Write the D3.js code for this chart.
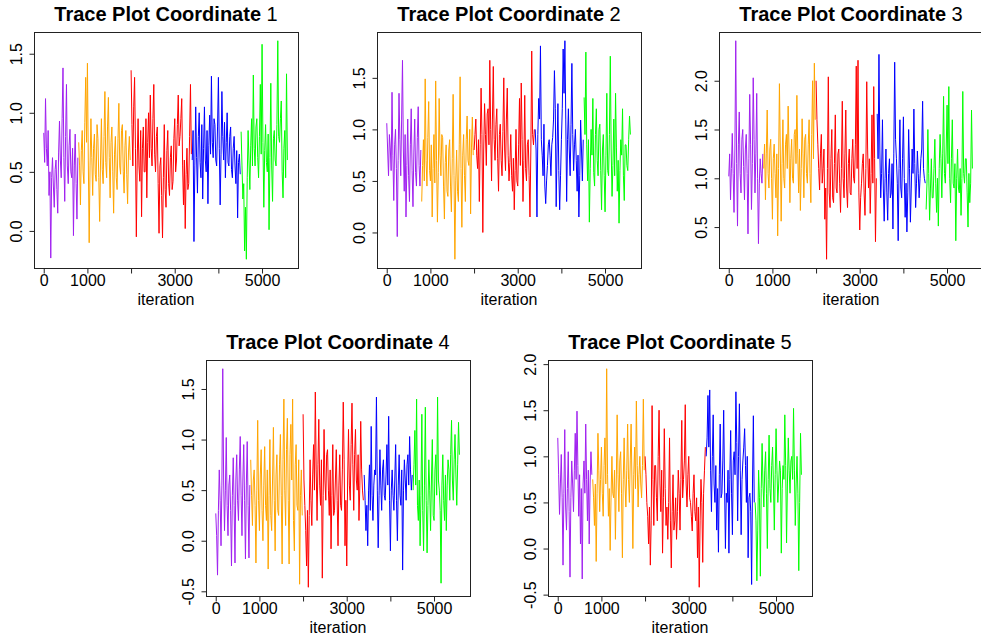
<!DOCTYPE html>
<html>
<head>
<meta charset="utf-8">
<script src="https://cdn.jsdelivr.net/npm/d3@7"></script>
<style>
  body { margin: 0; background: #fff; }
  svg { display: block; font-family: "Liberation Sans", Arial, sans-serif; }
</style>
</head>
<body>
<svg id="chart" width="981" height="642"></svg>
<script>
// -- MCMC trace plots, five coordinates, five chains each --

// samples are read every 20 iterations off the picture
const nIter = 5600;
const iterStep = 20;
const chainLengths = [40, 60, 70, 56, 54];
const chainColors = ['#a020f0', '#ffa500', '#ff0000', '#0000ff', '#00ff00'];
const xTicks = [0, 1000, 2000, 3000, 4000, 5000];
const xTickLabels = ['0', '1000', '', '3000', '', '5000'];
const titles = ['1', '2', '3', '4', '5'];

const coord1 = [
  // purple
  0.83, 0.58, 1.12, 0.70, 0.55, 0.85, 0.30, 0.50, -0.23, 0.45, 0.62, 0.38, 0.20, 0.52, 0.60, 0.35, 0.15, 0.66, 0.93, 0.60,
  0.45, 0.95, 1.38, 0.62, 0.25, 0.80, 1.24, 0.55, 0.40, 0.72, 0.86, 0.50, 0.45, 0.70, -0.04, 0.55, 0.82, 0.40, 0.10, 0.62,
  // orange
  0.75, 0.55, 0.22, 0.68, 0.85, 0.50, 0.40, 0.92, 1.30, 0.75, 1.42, 0.60, -0.10, 0.55, 0.95, 0.62, 0.30, 0.70, 0.82, 0.48,
  0.42, 0.90, 0.78, 0.45, 0.08, 0.60, 0.95, 0.52, 0.40, 0.80, 1.18, 0.58, 0.45, 0.88, 1.13, 0.62, 0.28, 0.75, 0.88, 0.50,
  0.15, 0.65, 0.80, 0.45, 0.35, 0.78, 1.08, 0.55, 0.48, 0.85, 0.90, 0.50, 0.32, 0.72, 0.85, 0.48, 0.23, 0.66, 0.80, 0.60,
  // red
  1.36, 0.90, 0.55, 1.05, 1.30, 0.70, -0.05, 0.60, 0.95, 0.55, 0.42, 0.85, 0.12, 0.70, 0.88, 0.50, 0.50, 0.95, 0.28, 0.75,
  1.00, 0.62, 1.15, 0.70, 0.55, 0.95, 1.24, 0.65, 0.50, 0.80, 0.88, 0.40, -0.02, 0.55, 0.62, 0.30, -0.06, 0.45, 0.90, 0.35,
  0.20, 0.68, 0.85, 0.40, 0.30, 0.62, 0.72, 0.35, 0.42, 0.78, 0.95, 0.50, 0.60, 0.90, 1.15, 0.72, 0.80, 0.95, 1.12, 0.55,
  0.22, 0.60, 0.02, 0.48, 0.70, 0.35, 0.40, 0.80, 1.24, 0.65,
  // blue
  0.60, 0.85, -0.09, 0.55, 1.05, 0.62, 0.32, 0.80, 1.00, 0.58, 0.45, 0.90, 0.27, 0.70, 1.05, 0.60, 0.50, 0.85, 0.23, 0.72,
  0.98, 0.65, 1.31, 0.75, 0.62, 0.95, 0.90, 0.60, 0.55, 0.88, 1.30, 0.70, 0.22, 0.65, 1.18, 0.80, 0.60, 0.92, 0.45, 0.75,
  1.00, 0.58, 0.55, 0.80, 0.88, 0.52, 0.45, 0.70, 0.80, 0.55, 0.40, 0.68, 0.11, 0.58, 0.65, 0.48,
  // green
  0.84, 0.55, 0.27, 0.40, -0.17, 0.20, -0.24, 0.45, 0.85, 0.60, 0.35, 0.72, 0.95, 0.55, 1.32, 0.70, 0.55, 0.88, 0.95, 0.62,
  0.45, 0.80, 1.24, 0.65, 1.58, 0.75, 0.20, 0.68, 0.90, 0.58, 0.50, 0.82, 0.01, 0.62, 1.25, 0.55, 0.25, 0.78, 0.85, 0.60,
  0.55, 0.90, 1.61, 0.80, 0.75, 0.95, 1.10, 0.50, 0.28, 0.70, 0.85, 0.45, 1.33, 0.60
];

const coord2 = [
  1.06, 0.80, 0.55, 0.95, 0.82, 0.60, 1.36, 0.75, 0.31, 0.85, 1.00, 0.62, -0.04, 0.70, 1.35, 0.90, 0.55, 1.10, 1.67, 0.80,
  0.40, 0.95, 0.15, 0.65, 1.10, 0.55, 0.30, 0.85, 1.20, 0.60, 0.25, 0.78, 1.10, 0.58, 0.45, 0.92, 1.22, 0.65, 0.45, 0.80,
  0.30, 0.65, 0.90, 0.50, 1.49, 0.70, 0.45, 0.92, 1.27, 0.60, 0.50, 0.85, 0.15, 0.62, 0.95, 0.48, 1.47, 0.70, 0.10, 0.58,
  1.30, 0.75, 0.55, 0.95, 0.92, 0.45, 0.13, 0.68, 0.85, 0.40, 0.35, 0.80, 0.90, 0.45, 0.20, 0.72, 1.34, 0.55, -0.26, 0.50,
  0.80, 0.40, 0.30, 0.85, 1.51, 0.62, 0.05, 0.75, 0.95, 0.55, 0.30, 0.90, 1.13, 0.70, 0.65, 1.00, 0.18, 0.82, 1.12, 0.75,
  0.80, 0.95, 1.10, 0.75, 0.62, 0.90, 0.30, 0.85, 1.40, 0.95, 0.00, 0.80, 1.25, 0.95, 0.65, 1.15, 1.20, 0.85, 1.67, 1.00,
  0.50, 1.10, 1.61, 0.90, 0.70, 1.05, 1.20, 0.72, 0.40, 0.95, 1.05, 0.70, 0.55, 0.98, 1.50, 0.80, 0.60, 1.10, 1.40, 0.75,
  0.50, 0.68, 0.95, 0.55, 0.40, 0.72, 0.22, 0.60, 1.00, 0.50, 0.45, 0.85, 1.30, 0.65, 1.45, 0.90, 0.30, 0.70, 1.33, 0.62,
  0.50, 0.85, 0.90, 0.55, 0.15, 0.80, 1.76, 0.95, 0.85, 1.00,
  1.00, 0.80, 0.15, 0.95, 1.30, 1.10, 1.81, 0.90, 0.75, 0.55, 1.05, 0.45, 0.28, 0.50, 0.65, 0.85, 0.90, 0.75, 0.55, 0.85,
  0.92, 1.10, 1.57, 1.20, 0.25, 0.80, 1.25, 0.60, 0.22, 0.55, 0.90, 1.20, 1.78, 1.35, 1.86, 1.10, 0.30, 0.90, 1.20, 0.80,
  0.55, 1.05, 1.64, 0.95, 0.60, 0.85, 1.00, 0.70, 0.40, 0.75, 0.15, 0.55, 1.09, 0.80, 0.50, 0.90,
  1.31, 0.95, 1.75, 0.85, 0.50, 0.90, 0.10, 0.62, 1.00, 0.75, 1.30, 0.58, 0.45, 0.95, 1.20, 0.70, 0.55, 1.00, 1.05, 0.60,
  0.22, 0.80, 0.95, 0.55, 0.20, 0.75, 1.35, 0.60, 0.55, 0.95, 1.71, 0.80, 0.35, 0.65, 1.10, 0.55, 1.35, 0.82, 0.40, 0.70,
  0.09, 0.60, 0.90, 0.75, 1.20, 0.55, 0.31, 0.85, 0.85, 0.65, 0.60, 0.90, 1.13, 0.95
];

const coord3 = [
  1.02, 1.25, 0.78, 1.10, 1.46, 1.05, 0.65, 1.30, 2.41, 1.15, 0.51, 1.35, 1.68, 1.05, 0.85, 1.40, 1.50, 1.12, 0.78, 1.30,
  1.45, 1.05, 0.43, 1.20, 1.86, 1.35, 0.68, 1.15, 2.03, 1.40, 0.85, 1.25, 1.87, 1.00, 0.33, 0.95, 1.20, 1.05, 0.95, 1.25,
  1.10, 1.35, 0.78, 1.25, 1.70, 1.05, 0.90, 1.30, 1.40, 1.00, 0.58, 1.20, 1.35, 1.05, 0.80, 1.25, 0.41, 1.10, 1.97, 1.30,
  0.56, 1.15, 1.60, 1.00, 0.90, 1.35, 1.45, 1.10, 1.74, 1.30, 0.75, 1.20, 1.40, 1.00, 0.95, 1.45, 1.50, 1.15, 1.85, 1.25,
  0.85, 1.30, 0.67, 1.10, 1.61, 1.25, 0.80, 1.40, 1.45, 1.05, 0.95, 1.35, 1.60, 1.05, 0.75, 1.45, 2.00, 1.20, 2.18, 1.60,
  2.00, 1.60, 1.35, 1.10, 0.88, 1.25, 1.45, 0.95, 1.10, 1.30, 0.58, 0.90, 0.17, 1.10, 2.04, 0.85, 0.70, 1.20, 1.50, 0.80,
  0.75, 1.15, 1.65, 0.90, 0.85, 1.25, 1.30, 0.95, 0.65, 1.10, 1.79, 1.00, 0.80, 1.25, 1.70, 0.90, 0.70, 1.15, 1.30, 0.85,
  0.83, 1.20, 1.40, 1.00, 0.95, 1.35, 2.15, 1.10, 2.21, 0.85, 0.47, 0.80, 0.95, 1.15, 1.25, 0.85, 0.62, 1.10, 1.99, 1.30,
  0.90, 1.20, 0.64, 1.05, 1.65, 0.95, 1.94, 1.20, 0.35, 1.00,
  1.66, 1.20, 2.27, 1.30, 0.80, 1.05, 1.60, 0.90, 0.56, 1.00, 1.30, 0.85, 0.57, 1.05, 1.20, 0.80, 0.85, 1.15, 0.48, 1.25,
  2.19, 1.40, 1.20, 0.95, 0.36, 1.10, 1.60, 0.90, 0.80, 1.20, 1.63, 1.00, 0.60, 0.95, 0.45, 0.85, 1.50, 1.10, 0.55, 0.90,
  1.30, 1.05, 1.71, 1.15, 0.70, 0.95, 1.28, 1.05, 0.80, 1.00, 1.20, 1.30, 1.79, 1.10, 1.00, 0.95,
  0.68, 0.95, 1.50, 1.05, 0.57, 0.90, 1.20, 0.80, 0.80, 1.10, 1.40, 0.95, 0.65, 1.00, 0.51, 1.10, 1.45, 1.20, 0.80, 1.25,
  1.84, 1.05, 0.95, 1.30, 1.75, 1.15, 1.94, 1.00, 0.75, 1.20, 1.60, 0.95, 0.90, 1.15, 0.36, 1.00, 1.30, 0.90, 0.85, 1.10,
  0.62, 1.00, 1.89, 1.05, 0.95, 1.20, 1.20, 0.85, 0.50, 1.05, 0.75, 0.95, 1.70, 1.10
];

const coord4 = [
  0.27, 0.05, -0.34, 0.30, 0.70, 0.40, -0.05, 0.55, 1.70, 0.60, 0.10, 0.50, 1.02, 0.35, 0.05, 0.55, 0.65, 0.30, -0.25, 0.45,
  0.82, 0.35, -0.22, 0.60, 0.85, 0.40, 0.20, 0.70, 1.03, 0.45, 0.05, 0.60, 0.95, 0.40, -0.18, 0.55, 0.98, 0.35, -0.17, 0.55,
  0.80, 0.45, 0.15, 0.60, 0.70, 0.35, -0.22, 0.50, 1.19, 0.40, 0.10, 0.65, 0.90, 0.30, 0.00, 0.55, 0.93, 0.35, 0.20, 0.70,
  -0.28, 0.45, 1.00, 0.25, 0.10, 0.60, 1.12, 0.40, -0.10, 0.65, 0.85, 0.30, 0.25, 0.75, 1.05, 0.45, -0.23, 0.80, 1.40, 0.50,
  0.15, 0.90, 1.21, 0.40, -0.23, 0.85, 1.15, 0.60, 1.40, 0.20, -0.10, 0.75, 0.95, 0.35, 0.30, 0.80, -0.43, 0.45, 0.70, 0.25,
  1.25, 0.60, 0.35, 0.10, -0.25, 0.30, -0.46, 0.25, 0.80, 0.40, 0.15, 0.65, 0.95, 0.50, 1.47, 0.70, 0.20, 0.75, 1.20, 0.55,
  0.35, 0.80, -0.37, 0.45, 1.10, 0.60, 0.40, 0.85, 0.90, 0.50, 0.25, 0.70, -0.08, 0.45, 0.95, 0.25, 0.30, 0.60, 0.90, 0.40,
  -0.05, 0.55, 0.85, 0.35, 0.30, 0.70, 1.37, 0.80, -0.05, 0.40, -0.25, 0.60, 1.10, 0.55, 0.40, 0.95, 1.36, 0.75, 0.30, 0.85,
  1.10, 0.60, 0.50, 0.85, 0.20, 0.55, 1.18, 0.70, 0.50, 0.40,
  0.65, 0.40, 0.10, 0.35, -0.05, 0.50, 0.75, 0.30, 1.13, 0.45, 0.20, 0.55, 0.70, 0.65, 1.42, 0.50, -0.07, 0.45, 0.90, 0.55,
  0.30, 0.70, 0.80, 0.45, 0.40, 0.65, 0.95, 0.55, 1.23, 0.40, -0.10, 0.50, 0.70, 0.45, 0.30, 0.60, 0.95, 0.40, 0.00, 0.55,
  0.85, 0.45, 0.35, 0.70, -0.29, 0.50, 0.80, 0.60, 0.40, 0.75, 0.85, 0.55, 1.03, 0.70, 0.50, 0.65,
  0.50, 0.75, 1.09, 0.55, 1.40, 0.35, 0.20, 0.60, -0.05, 0.45, 1.25, 0.30, -0.10, 0.55, 1.32, 0.40, -0.12, 0.35, 0.80, 0.50,
  0.10, 0.60, 1.00, 0.25, 0.20, 0.70, 0.85, 0.45, 1.42, 0.60, 0.50, 0.30, -0.42, 0.55, 0.85, 0.40, 0.20, 0.65, 0.10, 0.55,
  0.80, 0.70, 0.40, 0.85, 1.19, 0.60, 0.40, 0.80, 1.05, 0.65, 0.35, 0.75, 1.17, 0.85
];

const coord5 = [
  1.20, 0.80, 0.37, 0.70, 1.02, 0.55, -0.18, 0.60, 1.29, 0.45, 0.20, 0.65, 1.05, 0.40, -0.31, 0.55, 0.95, 0.70, 0.40, 0.85,
  1.25, 0.75, 1.49, 0.90, 0.35, 0.80, 0.05, 0.65, -0.33, 0.70, 0.95, 0.60, 1.35, 0.75, 0.30, 0.85, 0.05, 0.70, 1.05, 0.80,
  0.75, 0.55, 0.25, 0.70, -0.14, 0.60, 1.25, 0.85, 0.40, 0.75, 1.10, 0.60, 0.35, 0.90, 1.20, 0.70, 1.95, 0.80, 0.35, 0.65,
  -0.02, 0.55, 1.00, 0.60, 0.55, 0.85, 0.10, 0.70, 1.45, 0.80, 0.40, 0.95, 1.05, 0.60, -0.10, 0.75, 1.20, 0.70, 0.45, 0.85,
  1.35, 0.75, 0.50, 0.95, 1.35, 0.70, 0.00, 0.80, 1.10, 0.65, 1.60, 0.90, 0.45, 0.80, 1.00, 0.70, 0.55, 0.90, 1.62, 0.85,
  1.00, 0.80, 0.50, 0.35, 0.05, 0.45, -0.18, 0.30, 1.55, 0.75, 0.25, 0.90, 0.90, 0.55, 0.30, 1.00, 1.50, 0.70, 0.40, 0.85,
  -0.05, 0.55, 1.30, 0.65, 0.25, 0.45, 0.10, 0.50, 1.20, 0.30, -0.21, 0.40, 0.80, 0.20, 0.30, 0.55, 0.10, 0.40, 0.85, 0.60,
  0.20, 0.75, 1.39, 0.55, 0.75, 0.95, 1.56, 0.70, 0.45, 0.80, 1.00, 0.55, 0.50, 0.35, 0.19, 0.60, 0.80, 0.40, 0.30, 0.55,
  -0.10, 0.45, -0.42, 0.30, 0.75, 0.50, -0.15, 0.60, 0.85, 1.10,
  1.00, 1.20, 1.66, 1.10, 1.72, 0.85, 0.40, 1.00, 1.45, 0.70, 0.50, 0.90, 0.20, 0.65, -0.04, 0.80, 1.35, 0.55, 0.60, 0.95,
  1.50, 0.70, 0.00, 0.60, 0.50, 0.85, -0.05, 0.75, 1.28, 0.60, 0.15, 0.95, 1.05, 0.80, 1.70, 1.15, 0.30, 1.00, 1.57, 0.85,
  0.15, 0.75, 0.95, 1.10, 1.30, 0.90, 0.50, 1.00, -0.10, 0.55, 0.60, 0.40, -0.39, 0.70, 1.44, 0.50,
  0.50, 0.30, -0.35, 0.20, 0.85, 0.55, -0.30, 0.65, 1.14, 0.70, 0.45, 0.85, 1.05, 0.60, 0.00, 0.75, 1.23, 0.65, 0.50, 0.90,
  1.10, 0.70, 0.20, 0.80, 1.30, 0.85, 0.50, 0.70, 0.95, 0.85, -0.05, 0.65, 0.90, 0.75, 1.45, 0.90, 0.06, 0.70, 1.20, 0.85,
  0.60, 0.95, 1.00, 0.75, 1.52, 0.85, 0.25, 0.70, 1.00, 0.60, -0.24, 0.50, 1.25, 0.80
];

const svg = d3.select('#chart');
const W = 264, H = 236;

const panels = [
  { values: coord1, left: 34, top: 32 },
  { values: coord2, left: 377, top: 32 },
  { values: coord3, left: 719, top: 32 },
  { values: coord4, left: 206, top: 360 },
  { values: coord5, left: 548, top: 360 },
];

// R style axis range: data range plus 4% each side
const xPad = 0.04 * (nIter - 1);
const x = d3.scaleLinear().domain([1 - xPad, nIter + xPad]).range([0, W]);

panels.forEach((p, k) => {
  const g = svg.append('g').attr('transform', `translate(${p.left},${p.top})`);

  const [lo, hi] = d3.extent(p.values);
  const pad = (hi - lo) * 0.04;
  const y = d3.scaleLinear().domain([lo - pad, hi + pad]).range([H, 0]);

  const line = d3.line().x(d => x(d.it)).y(d => y(d.v));

  let start = 0;
  chainLengths.forEach((n, c) => {
    const pts = p.values.slice(start, start + n)
      .map((v, j) => ({ it: 1 + (start + j) * iterStep, v }));
    start += n;
    g.append('path')
      .datum(pts)
      .attr('d', line)
      .attr('fill', 'none')
      .attr('stroke', chainColors[c])
      .attr('stroke-width', 1);
  });

  g.append('rect')
    .attr('x', 0.5).attr('y', 0.5)
    .attr('width', W).attr('height', H)
    .attr('fill', 'none')
    .attr('stroke', '#222')
    .attr('stroke-width', 1);

  const xAxis = g.append('g')
    .attr('transform', `translate(0,${H + 0.5})`)
    .call(d3.axisBottom(x)
      .tickValues(xTicks)
      .tickSize(5)
      .tickPadding(1)
      .tickFormat((d, i) => xTickLabels[i]));
  xAxis.select('.domain').remove();
  xAxis.selectAll('text').attr('font-size', 16).attr('font-family', null).attr('fill', '#000');
  xAxis.selectAll('line').attr('stroke', '#222');

  const yAxis = g.append('g')
    .attr('transform', 'translate(0.5,0)')
    .call(d3.axisLeft(y).ticks(5).tickSize(5).tickFormat(v => v.toFixed(1)));
  yAxis.select('.domain').remove();
  yAxis.selectAll('line').attr('stroke', '#222');
  yAxis.selectAll('text')
    .attr('x', 0).attr('dy', 0)
    .attr('text-anchor', 'middle')
    .attr('transform', 'translate(-13,0) rotate(-90)')
    .attr('font-size', 16).attr('font-family', null).attr('fill', '#000');

  const title = g.append('text')
    .attr('x', W / 2).attr('y', -11)
    .attr('text-anchor', 'middle')
    .attr('font-size', 20)
    .attr('fill', '#000');
  title.append('tspan').attr('font-weight', 'bold').text('Trace Plot Coordinate ');
  title.append('tspan').text(titles[k]);

  g.append('text')
    .attr('x', W / 2).attr('y', H + 37)
    .attr('text-anchor', 'middle')
    .attr('font-size', 16)
    .attr('fill', '#000')
    .text('iteration');
});
</script>
</body>
</html>
